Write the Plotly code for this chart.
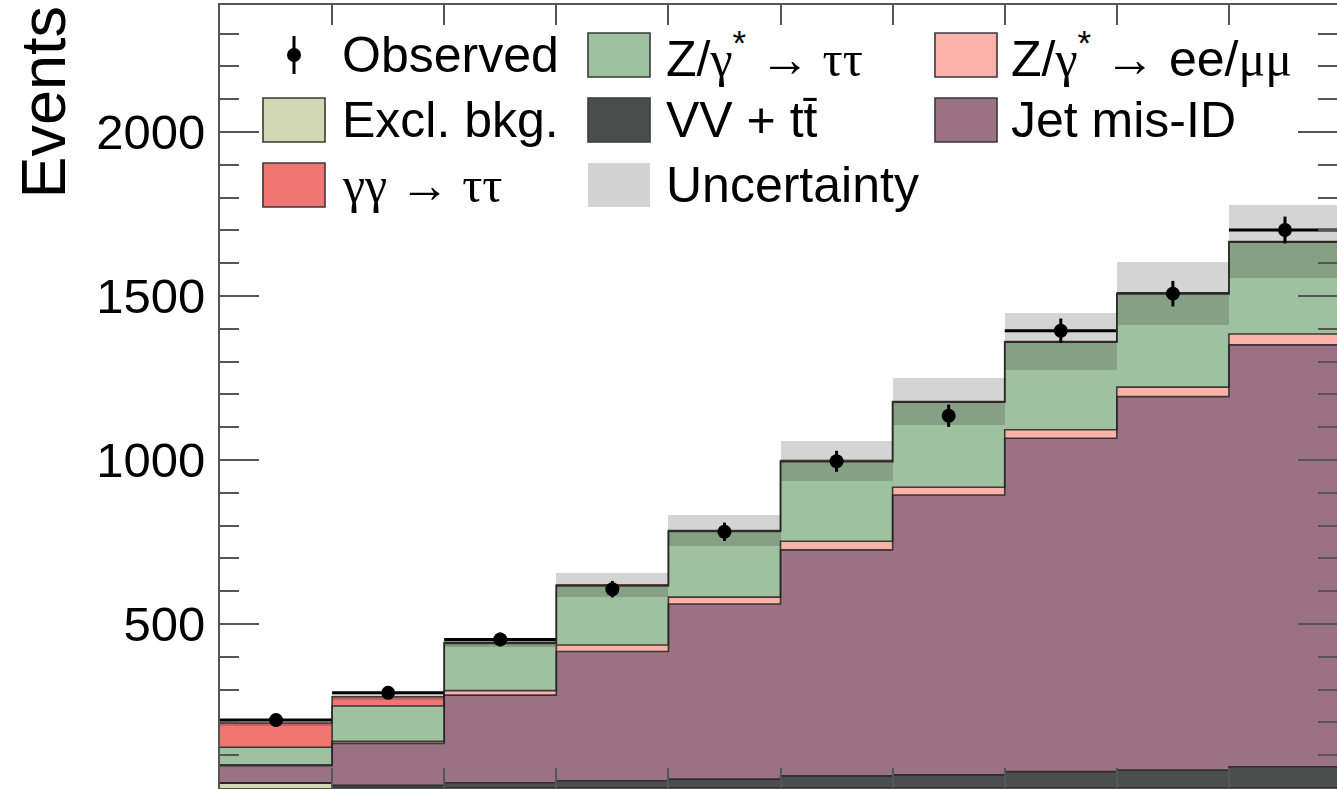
import plotly.graph_objects as go

# ---------------- data ----------------
bin_edges = [0, 1, 2, 3, 4, 5, 6, 7, 8, 9, 10]
excl_bkg = [15, 0, 0, 0, 0, 0, 0, 0, 0, 0]
vv_ttbar = [1, 8, 16, 22, 27, 37, 40, 50, 55, 65]
jet_misid = [52, 128, 267, 394, 534, 689, 853, 1016, 1138, 1286]
z_ll = [3, 6, 14, 20, 21, 26, 24, 26, 29, 33]
z_tautau = [53, 108, 144, 180, 200, 243, 259, 267, 284, 280]
gg_tautau = [74, 28, 3, 3, 3, 2, 2, 2, 2, 2]
observed = [207, 290, 453, 606, 781, 996, 1135, 1394, 1507, 1701]
observed_err = [14, 17, 21, 25, 28, 32, 34, 37, 39, 41]
total_unc = [8, 10, 13, 36, 47, 62, 72, 87, 97, 110]
y_tick_vals = [500, 1000, 1500, 2000]
y_tick_text = ["500", "1000", "1500", "2000"]

# ---------------- styles ----------------
FONT = "Liberation Sans"
C_EXCL = "#d3d8b4"
C_VV = "#4a4f4d"
C_JET = "#9a7284"
C_ZLL = "#fbb3a9"
C_ZTT = "#a0c19f"
C_GG = "#f07674"
C_UNC = "rgba(0,0,0,0.17)"
C_UNC_LEG = "#d3d3d3"
C_EDGE = "rgba(35,35,35,0.85)"


def g(s):
    """Greek letters / arrows in a serif face, like the ROOT symbol font."""
    return '<span style="font-family:Liberation Serif">' + s + "</span>"


components = [
    ("Excl. bkg.", excl_bkg, C_EXCL),
    ("VV + tt\u0304", vv_ttbar, C_VV),
    ("Jet mis-ID", jet_misid, C_JET),
    ("Z/\u03b3* \u2192 ee/\u03bc\u03bc", z_ll, C_ZLL),
    ("Z/\u03b3* \u2192 \u03c4\u03c4", z_tautau, C_ZTT),
    ("\u03b3\u03b3 \u2192 \u03c4\u03c4", gg_tautau, C_GG),
]

centers = [(a + b) / 2 for a, b in zip(bin_edges[:-1], bin_edges[1:])]
widths = [b - a for a, b in zip(bin_edges[:-1], bin_edges[1:])]
half_w = [w / 2 for w in widths]

fig = go.Figure()

# observed x-extent lines, drawn underneath the stack (base subplot)
fig.add_trace(go.Scatter(
    x=centers, y=observed, mode="markers",
    marker=dict(size=1, color="black"),
    error_x=dict(type="data", array=half_w, width=0, thickness=3, color="black"),
    xaxis="x", yaxis="y", showlegend=False, hoverinfo="skip"))

# stacked histogram (overlay subplot)
cum = [0] * len(centers)
tops = []
for name, vals, color in components:
    fig.add_trace(go.Bar(
        x=centers, y=vals, base=cum, width=widths, name=name,
        marker=dict(color=color, line=dict(width=0)),
        xaxis="x2", yaxis="y2", showlegend=False))
    cum = [c + v for c, v in zip(cum, vals)]
    tops.append(cum)

total = tops[-1]
fig.add_trace(go.Bar(
    x=centers, y=[2 * u for u in total_unc],
    base=[t - u for t, u in zip(total, total_unc)], width=widths,
    name="Uncertainty", marker=dict(color=C_UNC, line=dict(width=0)),
    xaxis="x2", yaxis="y2", showlegend=False))

# histogram outlines as steps
for top in tops:
    fig.add_trace(go.Scatter(
        x=bin_edges, y=top + [top[-1]], mode="lines",
        line=dict(shape="hv", color=C_EDGE, width=1.6),
        xaxis="x2", yaxis="y2", showlegend=False, hoverinfo="skip"))

# observed points
fig.add_trace(go.Scatter(
    x=centers, y=observed, mode="markers", name="Observed",
    marker=dict(size=14, color="black"),
    error_y=dict(type="data", array=observed_err, width=0, thickness=3, color="black"),
    xaxis="x2", yaxis="y2", showlegend=False))

# ---------------- layout ----------------
L, R, T, B = 220, 1337, 5, 788
XR = [0, 9.964]
YR = [0, 2387]


def px(x):
    return (x - L) / (R - L)


def py(y):
    return (B - y) / (B - T)


axis_common = dict(showgrid=False, zeroline=False, automargin=False)

fig.update_layout(
    width=1337, height=789,
    margin=dict(l=L, r=0, t=T, b=789 - B, pad=0),
    paper_bgcolor="white", plot_bgcolor="white",
    template="none",
    barmode="overlay", bargap=0,
    showlegend=False,
    font=dict(family=FONT, color="black"),
    xaxis=dict(range=XR, visible=False, **axis_common),
    yaxis=dict(range=YR, visible=False, **axis_common),
    xaxis2=dict(
        overlaying="x", anchor="y2", range=XR,
        tickmode="array", tickvals=bin_edges, ticks="inside", ticklen=20,
        tickwidth=2, tickcolor="#555", showticklabels=False,
        showline=True, linewidth=2, linecolor="#555", mirror="ticks",
        **axis_common),
    yaxis2=dict(
        overlaying="y", anchor="x2", range=YR,
        tickmode="array", tickvals=y_tick_vals, ticktext=y_tick_text,
        ticks="inside", ticklen=39, tickwidth=2, tickcolor="#555",
        ticklabelstandoff=3,
        tickfont=dict(family=FONT, size=49, color="black"),
        minor=dict(tickmode="linear", tick0=0, dtick=100, ticks="inside",
                   ticklen=19, tickwidth=2, tickcolor="#555"),
        showline=True, linewidth=2, linecolor="#555", mirror="ticks",
        **axis_common),
)

# y-axis title (top aligned)
fig.add_annotation(
    text="Events", xref="paper", yref="paper", x=px(42), y=py(4),
    xanchor="center", yanchor="top", textangle=-90, showarrow=False,
    font=dict(family=FONT, size=63, color="black"))

# ---------------- legend (drawn) ----------------
col_sw = [263, 588, 935]
col_tx = [340, 664, 1009]
row_c = [55, 120, 185]
SW_W, SW_H = 62, 44

legend_entries = [
    ("Observed", "marker", None, 0, 0),
    ("Z/" + g("\u03b3") + "<sup>*</sup> " + g("\u2192 \u03c4\u03c4"), "box", C_ZTT, 1, 0),
    ("Z/" + g("\u03b3") + "<sup>*</sup> " + g("\u2192") + " ee/" + g("\u03bc\u03bc"), "box", C_ZLL, 2, 0),
    ("Excl. bkg.", "box", C_EXCL, 0, 1),
    ("VV + tt\u0304", "box", C_VV, 1, 1),
    ("Jet mis-ID", "box", C_JET, 2, 1),
    (g("\u03b3\u03b3 \u2192 \u03c4\u03c4"), "box", C_GG, 0, 2),
    ("Uncertainty", "unc", C_UNC_LEG, 1, 2),
]

for text, kind, color, c, r in legend_entries:
    yc = row_c[r]
    x0 = col_sw[c]
    if kind == "marker":
        xc = x0 + SW_W / 2
        fig.add_shape(type="line", xref="paper", yref="paper",
                      x0=px(xc), x1=px(xc), y0=py(yc - 19), y1=py(yc + 19),
                      line=dict(color="black", width=3))
        fig.add_shape(type="circle", xref="paper", yref="paper",
                      x0=px(xc - 7), x1=px(xc + 7), y0=py(yc + 7), y1=py(yc - 7),
                      fillcolor="black", line=dict(color="black", width=0))
    else:
        line = dict(color="#3a3a3a", width=1.6) if kind == "box" else dict(width=0)
        fig.add_shape(type="rect", xref="paper", yref="paper",
                      x0=px(x0), x1=px(x0 + SW_W),
                      y0=py(yc + SW_H / 2), y1=py(yc - SW_H / 2),
                      fillcolor=color, line=line)
    fig.add_annotation(text=text, xref="paper", yref="paper",
                       x=px(col_tx[c]), y=py(yc), xanchor="left", yanchor="middle",
                       showarrow=False, font=dict(family=FONT, size=50, color="black"))

fig.write_html("out.html", config={"displayModeBar": False},
               post_script="document.body.style.margin='0px';")
